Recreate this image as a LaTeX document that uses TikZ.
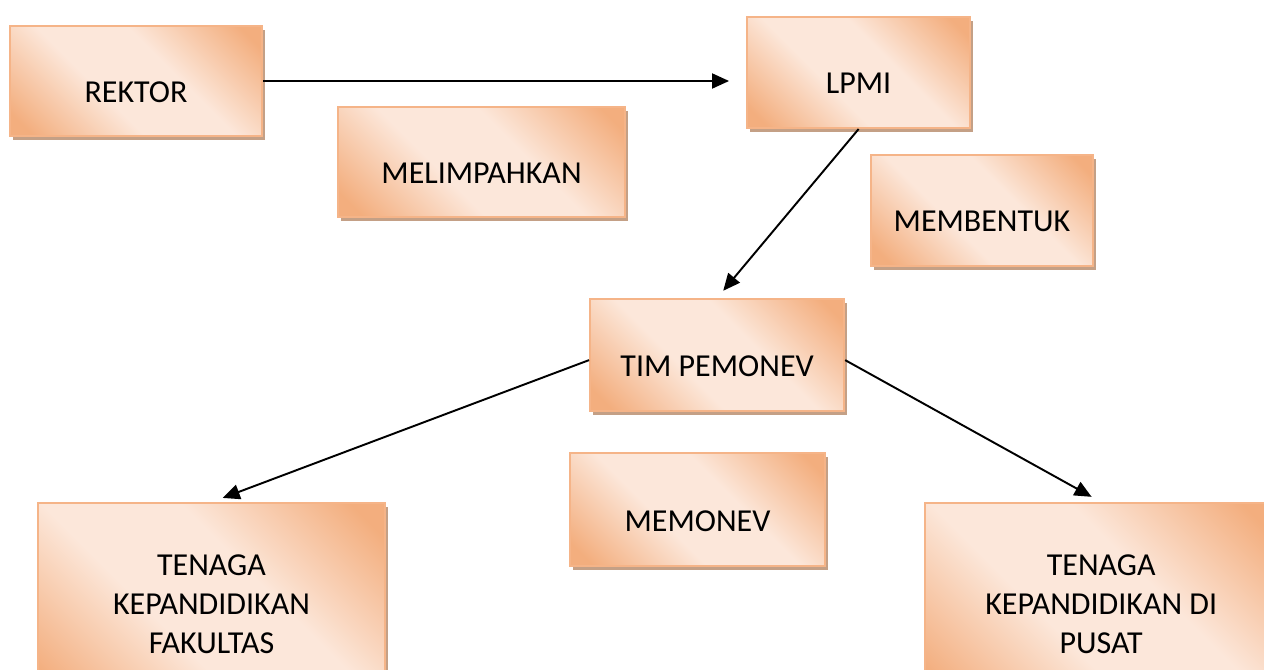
\documentclass[tikz,border=0pt]{standalone}
\usepackage{fontspec}
\setmainfont{Carlito}
\usetikzlibrary{positioning,arrows.meta,shadows}
\definecolor{boxdark}{RGB}{243,174,126}
\definecolor{boxlight}{RGB}{252,231,218}
\definecolor{boxline}{RGB}{245,180,136}
\definecolor{boxshadow}{RGB}{196,160,134}
\pgfdeclareverticalshading{boxshade}{100bp}{color(0bp)=(boxdark); color(19bp)=(boxdark); color(41bp)=(boxlight); color(59bp)=(boxlight); color(81bp)=(boxdark); color(100bp)=(boxdark)}
\tikzset{
	box/.style={rectangle,draw=boxline,line width=1.2pt,
		shading=boxshade,shading angle=-45,
		general shadow={fill=boxshadow,shadow xshift=0.06cm,shadow yshift=-0.08cm},
		font=\fontsize{18.2}{22}\selectfont,text height=0.86cm,text depth=0pt},
	bigbox/.style={box,text height=,text depth=,align=center,minimum height=4.04cm}
}

\begin{document}
\begin{tikzpicture}[->,>={Triangle[length=0.34cm,width=0.3cm]},auto]
			\useasboundingbox (0,0) rectangle (25.28,-13.4);
			\node[box,minimum width=5.04cm,minimum height=2.2cm] (rektor) at (2.72,-1.62) {REKTOR};
			\node[box,minimum width=4.46cm,minimum height=2.22cm] (lpmi) [right=9.66cm of rektor,yshift=0.17cm] {LPMI};
			\node[box,minimum width=5.08cm,minimum height=2.24cm] (tim) [below=3.38cm of lpmi,xshift=-2.83cm] {TIM PEMONEV};
			\node[bigbox,minimum width=6.94cm] (fakultas) [below left=1.8cm and 4.06cm of tim] {TENAGA\\KEPANDIDIKAN\\FAKULTAS};
			\node[bigbox,minimum width=7.04cm] (pusat) [below right=1.8cm and 1.58cm of tim] {TENAGA\\KEPANDIDIKAN DI\\PUSAT};
			% keterangan
			\node[box,minimum width=5.74cm,minimum height=2.2cm] (melimpahkan) at (9.63,-3.24) {MELIMPAHKAN};
			\node[box,minimum width=4.44cm,minimum height=2.22cm] (membentuk) at (19.64,-4.21) {MEMBENTUK};
			\node[box,minimum width=5.1cm,minimum height=2.26cm] (memonev) at (13.95,-10.19) {MEMONEV};
	
			\path[line width=1.1pt] (rektor.east) edge[shorten >=0.34cm] (rektor.east -| lpmi.west)
					(lpmi.south) edge[shorten >=0.19cm] (tim.north)
					([yshift=-0.1cm]tim.west) edge[shorten >=0.24cm] (fakultas.north)
					([yshift=-0.1cm]tim.east) edge[shorten >=0.22cm] (pusat.north);
			\end{tikzpicture}
\end{document}
